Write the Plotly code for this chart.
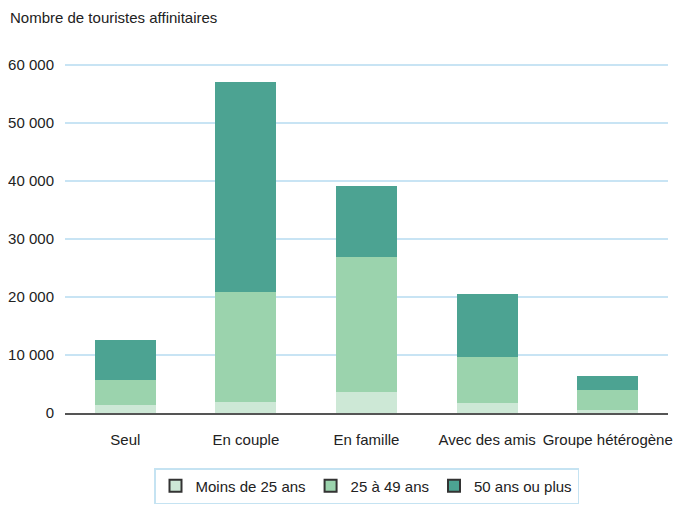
import plotly.graph_objects as go

categories = ["Seul", "En couple", "En famille", "Avec des amis", "Groupe hétérogène"]
series_names = ["Moins de 25 ans", "25 à 49 ans", "50 ans ou plus"]
moins_25 = [1450, 1950, 3700, 1650, 450]
de_25_49 = [4300, 18900, 23200, 7950, 3600]
plus_50 = [6900, 36200, 12250, 10850, 2250]
colors = ["#cde8d6", "#9bd3ad", "#4ca392"]
tick_vals = [0, 10000, 20000, 30000, 40000, 50000, 60000]
tick_text = ["0", "10 000", "20 000", "30 000", "40 000", "50 000", "60 000"]

W, H = 675, 504  # page body adds 8px margin
fig = go.Figure()
for name, vals, col in zip(series_names, [moins_25, de_25_49, plus_50], colors):
    fig.add_trace(go.Bar(x=categories, y=vals, name=name, marker=dict(color=col, line=dict(width=0)),
                         showlegend=False, hoverinfo="x+y+name"))
for name, col in zip(series_names, colors):
    fig.add_trace(go.Bar(x=[categories[0]], y=[None], name=name,
                         marker=dict(color=col, line=dict(color="#333333", width=1.5)), showlegend=True))

fig.update_layout(
    barmode="stack",
    bargap=0.494,
    width=W, height=H,
    margin=dict(l=57, r=15, t=45, b=99, autoexpand=False),
    paper_bgcolor="white", plot_bgcolor="white",
    font=dict(family="Liberation Sans, Arial, sans-serif", size=15, color="#222222"),
    xaxis=dict(showgrid=False, showline=True, linecolor="#555555", linewidth=1.5, automargin=False,
               ticks="", ticklabelstandoff=12, tickfont=dict(size=15)),
    yaxis=dict(range=[0, 62069], tickvals=tick_vals, ticktext=tick_text, automargin=False,
               showgrid=True, gridcolor="#c8e4f4", gridwidth=1.5, zeroline=False,
               showline=False, ticks="", ticklabelstandoff=10, tickfont=dict(size=15)),
    legend=dict(orientation="h", x=0.5, xanchor="center", yref="container", y=1-460/H, yanchor="top",
                bordercolor="#c5e3f2", borderwidth=1.5, font=dict(size=15),
                itemsizing="constant", traceorder="normal"),
    annotations=[dict(text="Nombre de touristes affinitaires", xref="paper", yref="paper",
                      x=(0-57)/603, xanchor="left", y=1+(45-10)/360, yanchor="middle",
                      showarrow=False, font=dict(size=15, color="#222222"))],
)
fig.write_html("out.html")
